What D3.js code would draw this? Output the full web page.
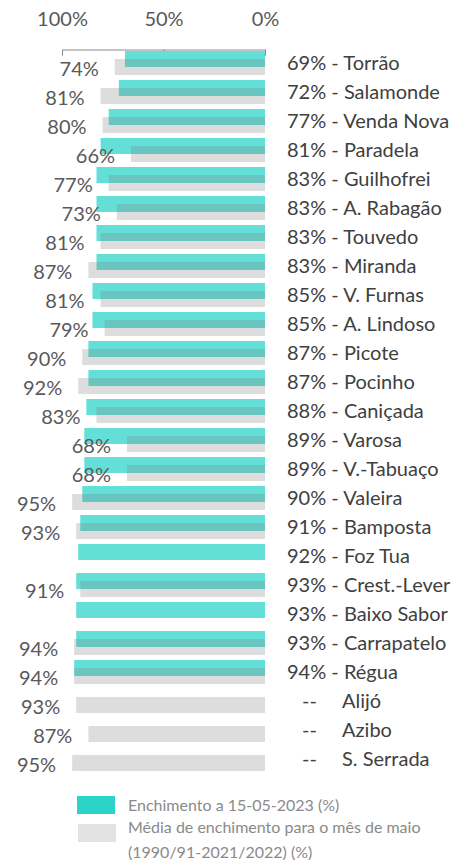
<!DOCTYPE html>
<html>
<head>
<meta charset="utf-8">
<script src="https://cdn.jsdelivr.net/npm/d3@7"></script>
<style>
  body { margin: 0; background: #fff; }
  text { font-family: Lato, "Liberation Sans", sans-serif; }
</style>
</head>
<body>
<div id="chart"></div>
<script>
// reservoirs, top to bottom
const names = ["Torrão", "Salamonde", "Venda Nova", "Paradela", "Guilhofrei", "A. Rabagão",
  "Touvedo", "Miranda", "V. Furnas", "A. Lindoso", "Picote", "Pocinho", "Caniçada",
  "Varosa", "V.-Tabuaço", "Valeira", "Bamposta", "Foz Tua", "Crest.-Lever", "Baixo Sabor",
  "Carrapatelo", "Régua", "Alijó", "Azibo", "S. Serrada"];
// enchimento a 15-05-2023 (%)
const current = [69, 72, 77, 81, 83, 83, 83, 83, 85, 85, 87, 87, 88, 89, 89, 90, 91, 92, 93, 93,
  93, 94, null, null, null];
// média para o mês de maio (%)
const average = [74, 81, 80, 66, 77, 73, 81, 87, 81, 79, 90, 92, 83, 68, 68, 95, 93, null, 91, null,
  94, 94, 93, 87, 95];
const ticks = [100, 50, 0];
const legendLabels = ["Enchimento a 15-05-2023 (%)",
  ["Média de enchimento para o mês de maio", "(1990/91-2021/2022) (%)"]];

const width = 473, height = 868;
const fs = 20;
const rows = names.map((n, i) => ({name: n, cur: current[i], avg: average[i]}));

const svg = d3.select("#chart").append("svg")
    .attr("width", width)
    .attr("height", height);

const x = d3.scaleLinear().domain([100, 0]).range([62, 265]);
const y = d3.scaleBand().domain(names).range([47, 47 + 29 * names.length]);

// axis on top, ticks pointing down
const axis = svg.append("g")
    .attr("transform", "translate(0,49.5)")
    .call(d3.axisTop(x).tickValues(ticks).tickSize(-6).tickPadding(24)
      .tickFormat(d => d + "%"));
axis.select(".domain").attr("stroke", "#8c8c8c");
axis.selectAll(".tick line").attr("stroke", "#8c8c8c");
axis.selectAll(".tick text")
    .attr("font-size", fs)
    .attr("fill", "#595959")
    .style("font-family", "Lato, 'Liberation Sans', sans-serif");

// current filling (teal)
svg.append("g").selectAll("rect")
  .data(rows.filter(d => d.cur != null))
  .join("rect")
    .attr("x", d => x(d.cur))
    .attr("y", d => y(d.name) + 4)
    .attr("width", d => x(0) - x(d.cur))
    .attr("height", 16)
    .attr("fill", "#63dfd7");

// monthly average (grey, translucent on top)
svg.append("g").selectAll("rect")
  .data(rows.filter(d => d.avg != null))
  .join("rect")
    .attr("x", d => x(d.avg))
    .attr("y", d => y(d.name) + 12)
    .attr("width", d => x(0) - x(d.avg))
    .attr("height", 16)
    .attr("fill", "#777")
    .attr("fill-opacity", 0.25);

// average labels
svg.append("g").selectAll("text")
  .data(rows.filter(d => d.avg != null))
  .join("text")
    .attr("x", d => x(d.avg) - 16)
    .attr("y", d => y(d.name) + 22)
    .attr("dy", "0.35em")
    .attr("text-anchor", "end")
    .attr("font-size", fs)
    .attr("fill", "#595959")
    .text(d => d.avg + "%");

// right-hand labels
const lab = svg.append("g").selectAll("g")
  .data(rows)
  .join("g")
    .attr("transform", d => `translate(287,${y(d.name) + 16})`);
lab.filter(d => d.cur != null).append("text")
    .attr("dy", "0.35em")
    .attr("font-size", fs)
    .attr("fill", "#404040")
    .text(d => `${d.cur}% - ${d.name}`);
lab.filter(d => d.cur == null).append("text")
    .attr("x", 15)
    .attr("dy", "0.35em")
    .attr("font-size", fs)
    .attr("fill", "#404040")
    .text("--");
lab.filter(d => d.cur == null).append("text")
    .attr("x", 55)
    .attr("dy", "0.35em")
    .attr("font-size", fs)
    .attr("fill", "#404040")
    .text(d => d.name);

// legend
const leg = svg.append("g").attr("transform", "translate(77,796)");
leg.append("rect").attr("width", 38).attr("height", 18).attr("fill", "#2cd3c9");
leg.append("text").attr("x", 51).attr("y", 9).attr("dy", "0.35em")
    .attr("font-size", 16).attr("fill", "#8a8a8a").text(legendLabels[0]);
leg.append("rect").attr("x", 1).attr("y", 28).attr("width", 38).attr("height", 18)
    .attr("fill", "#e3e3e3");
leg.append("text").attr("x", 51).attr("y", 37).attr("dy", "0.35em")
    .attr("font-size", 16).attr("fill", "#8a8a8a")
  .selectAll("tspan")
  .data(legendLabels[1])
  .join("tspan")
    .attr("x", 51)
    .attr("dy", (d, i) => i ? "1.55em" : 0)
    .text(d => d);
</script>
</body>
</html>
